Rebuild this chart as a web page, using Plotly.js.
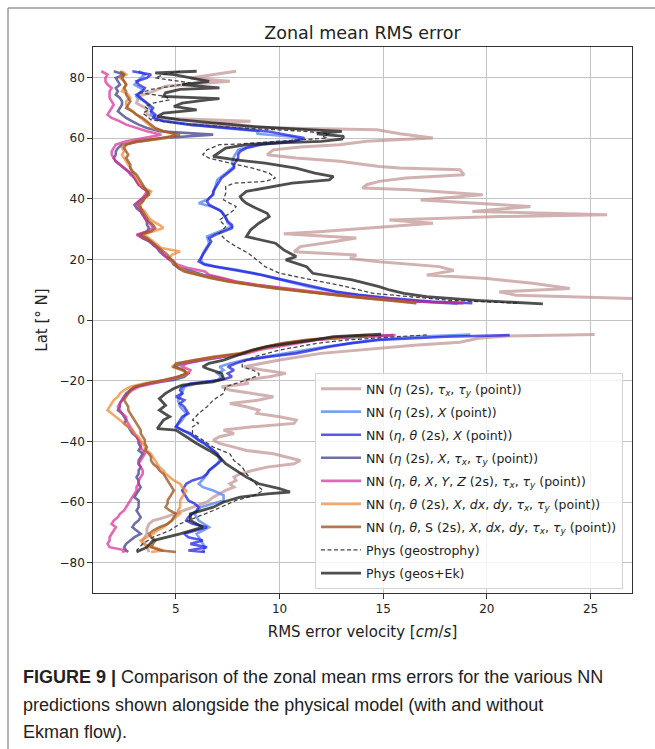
<!DOCTYPE html>
<html>
<head>
<meta charset="utf-8">
<script src="https://cdn.plot.ly/plotly-3.0.1.min.js"></script>
<style>
html,body{margin:0;padding:0;background:#fff;}
#chart{width:655px;height:749px;}
</style>
</head>
<body>
<div id="chart"></div>
<script>
// ---------- DATA ----------
// Common latitude grids (deg N) used by several NN series
const latN = [82.0,80.9,79.8,78.7,77.6,76.5,75.4,74.3,73.2,72.1,71.0,69.9,68.8,67.7,66.6,65.5,64.4,63.3,62.2,61.1,60.0,58.9,57.8,56.7,55.6,54.5,53.4,52.3,51.2,50.1,49.0,47.9,46.8,45.7,44.6,43.5,42.4,41.3,40.2,39.1,38.0,36.9,35.8,34.7,33.6,32.5,31.4,30.3,29.2,28.1,27.0,25.9,24.8,23.7,22.6,21.5,20.4,19.3,18.2,17.1,16.0,14.9,13.8,12.7,11.6,10.5,9.4,8.3,7.2,6.1,5.5];
const latS = [-5.0,-5.5,-6.6,-7.7,-8.8,-9.9,-11.0,-12.1,-13.2,-14.3,-15.4,-16.5,-17.6,-18.7,-19.8,-20.9,-22.0,-23.1,-24.2,-25.3,-26.4,-27.5,-28.6,-29.7,-30.8,-31.9,-33.0,-34.1,-35.2,-36.3,-37.4,-38.5,-39.6,-40.7,-41.9,-43.0,-44.1,-45.2,-46.3,-47.4,-48.5,-49.6,-50.7,-51.8,-52.9,-54.0,-55.1,-56.2,-57.3,-58.4,-59.5,-60.5,-61.7,-62.8,-63.9,-65.0,-66.1,-67.2,-68.3,-69.4,-70.5,-71.6,-72.7,-73.8,-74.9,-76.0,-76.5];

// NN (eta (2s), tau_x, tau_y (point))
const latRosyN = [82.0,80.9,79.8,78.7,77.1,75.4,73.7,71.5,70.0,69.3,67.7,66.5,65.5,64.4,63.3,62.7,61.4,60.0,58.9,57.8,57.0,56.1,54.5,53.4,52.3,50.6,50.1,49.5,47.9,46.8,45.7,44.6,43.5,42.9,41.3,39.6,38.5,37.4,35.8,34.7,34.1,33.0,31.9,30.2,29.1,28.4,27.0,25.8,24.2,22.5,21.4,20.3,19.2,17.6,16.3,14.8,13.7,12.1,10.4,9.3,8.2,6.9];
const rmsRosyN = [7.9,6.8,5.7,7.6,4.5,3.9,3.2,3.1,3.5,3.6,3.6,4.5,8.6,5.7,10.0,14.7,15.8,17.4,14.2,12.9,11.0,9.7,9.4,10.8,12.9,14.8,15.8,18.7,18.9,16.1,14.8,14.2,14.0,16.3,19.8,16.8,19.5,22.1,19.3,25.8,20.6,15.3,17.4,14.2,11.9,10.2,13.7,12.6,11.0,10.7,13.7,13.4,14.8,17.7,18.4,17.1,20.0,22.2,24.0,20.6,21.4,28.0];
const latRosyS = [-4.8,-5.3,-6.0,-7.3,-8.3,-9.3,-11.0,-13.2,-15.4,-16.5,-17.6,-18.7,-19.8,-20.9,-22.0,-23.1,-24.2,-25.3,-26.4,-27.5,-28.6,-29.7,-30.8,-31.9,-33.0,-34.1,-35.2,-36.3,-37.4,-38.5,-39.6,-40.7,-41.9,-43.0,-44.1,-45.2,-46.3,-47.4,-48.5,-49.6,-50.7,-51.8,-52.9,-54.0,-55.1,-56.2,-57.3,-58.4,-60.0,-61.7,-63.3,-65.0,-66.1,-67.2,-68.8,-70.5,-72.7,-74.9,-76.5];
const rmsRosyS = [25.2,21.0,19.6,18.7,16.5,14.8,12.0,10.0,8.3,9.2,10.3,9.5,8.3,8.5,7.2,7.6,8.7,9.7,9.0,7.6,8.4,9.0,8.9,10.0,10.8,10.7,8.7,7.3,7.8,7.1,6.8,7.1,7.8,8.4,9.7,10.3,11.0,10.7,9.4,8.7,8.1,7.8,7.9,7.6,7.8,7.4,7.1,6.8,6.5,5.8,5.2,4.5,3.9,3.7,3.6,3.6,3.4,3.6,3.7];

// NN (eta (2s), X (point))
const latCornN = [82.0,80.9,79.8,77.6,76.0,73.7,71.5,69.3,67.7,66.0,64.4,63.3,62.2,61.4,60.5,59.6,58.9,58.3,57.2,56.1,53.9,51.7,50.6,48.4,46.2,44.0,41.8,40.0,38.5,37.4,36.3,34.1,31.9,30.8,29.7,28.6,27.5,25.3,23.1,22.0,19.8,18.7,17.6,16.5,15.4,14.3,13.2,11.0,8.8,7.7,7.0,6.0,5.3];
const rmsCornN = [3.2,3.5,3.3,3.0,3.4,3.1,3.6,3.8,3.8,4.2,5.6,7.4,9.0,8.9,10.5,11.1,10.4,9.2,8.5,8.0,7.8,7.7,7.8,7.4,7.0,6.9,6.8,6.6,6.1,6.7,7.1,7.4,7.5,7.7,7.3,6.9,6.5,6.6,6.4,6.3,6.2,6.3,6.9,8.0,8.8,9.4,10.1,11.4,13.0,14.4,15.2,17.0,18.6];
const latCornS = [-4.8,-5.5,-6.6,-7.7,-8.8,-11.0,-13.2,-14.3,-15.4,-16.5,-17.6,-18.7,-19.8,-20.9,-22.0,-24.2,-26.4,-28.6,-30.8,-33.0,-35.2,-37.4,-39.6,-41.9,-44.1,-46.3,-47.4,-49.6,-51.8,-54.0,-55.1,-56.2,-57.8,-59.5,-60.5,-61.7,-63.9,-66.1,-68.3,-70.5,-72.7,-74.9,-76.5];
const rmsCornS = [19.2,16.5,14.5,13.3,12.2,10.3,8.3,7.6,7.1,7.3,7.0,7.2,7.0,6.0,5.4,5.3,5.1,5.2,5.5,5.3,5.0,5.6,6.1,6.6,7.0,7.1,7.0,6.6,6.4,6.1,6.3,6.8,7.3,7.3,6.8,6.2,5.9,6.1,6.6,6.0,6.2,6.4,6.3];

// NN (eta, theta (2s), X (point))  -- on latN / latS
const rmsBlueN = [2.9,3.8,3.6,3.1,3.2,3.5,3.4,3.1,3.3,3.5,3.7,3.9,3.8,4.0,3.9,4.4,5.7,7.6,9.4,10.3,11.2,10.7,9.1,8.4,8.1,8.0,8.0,7.9,7.8,7.8,7.6,7.4,7.2,7.1,7.0,6.9,6.8,6.8,6.6,6.5,6.6,6.9,7.2,7.3,7.4,7.5,7.7,7.7,7.3,6.9,6.6,6.7,6.6,6.5,6.4,6.3,6.2,6.1,6.4,7.3,8.3,9.1,9.8,10.5,11.2,11.9,12.7,13.8,15.3,17.3,19.3];
const rmsBlueS = [21.1,18.0,14.8,13.4,12.4,11.5,10.8,9.5,8.4,7.9,7.5,7.8,7.5,7.7,7.2,5.7,5.3,5.2,5.3,5.0,5.4,5.2,5.4,5.5,5.6,5.3,5.2,5.1,5.0,5.3,5.7,5.9,6.1,6.4,6.6,6.8,7.0,7.1,7.2,7.0,6.8,6.6,6.5,6.3,5.8,5.5,5.4,5.3,5.4,5.5,5.6,5.9,6.1,6.0,5.8,5.6,5.5,5.8,6.5,5.9,5.4,5.6,6.3,5.7,6.5,5.6,6.4];

// NN (eta (2s), X, tau_x, tau_y (point))
const rmsSlateN = [2.0,2.5,2.1,2.2,2.3,2.1,2.2,2.1,2.3,2.4,2.4,2.3,2.2,2.4,2.6,2.9,3.2,3.6,4.2,6.8,4.4,3.3,2.4,2.2,2.1,2.1,2.0,2.1,2.3,2.5,2.7,2.9,3.0,3.1,3.2,3.4,3.7,3.6,3.4,3.2,3.0,3.1,3.3,3.4,3.5,3.6,3.6,3.7,3.6,3.2,3.4,3.7,3.9,4.1,4.2,4.4,4.6,4.8,4.9,5.2,5.8,6.3,7.1,7.8,8.8,10.0,11.3,12.7,14.4,16.6,18.8];
const rmsSlateS = [15.5,14.0,11.5,10.2,9.4,8.8,8.3,7.3,6.4,5.4,4.9,5.3,5.6,5.4,4.9,3.7,3.1,2.8,2.6,2.5,2.4,2.3,2.3,2.2,2.4,2.5,2.6,2.5,2.7,2.8,2.9,3.1,3.2,3.2,3.3,3.2,3.4,3.3,3.2,3.2,3.3,3.2,3.2,3.1,3.2,3.2,3.3,3.2,3.1,3.0,3.2,3.2,3.2,3.1,3.2,3.3,3.2,3.0,2.9,3.1,3.3,3.0,2.8,2.6,2.5,2.6,2.7];

// NN (eta, theta, X, Y, Z (2s), tau_x, tau_y (point))
const rmsPinkN = [1.4,1.7,1.6,1.6,1.7,1.9,1.8,1.8,1.8,1.9,2.0,1.9,1.8,1.7,1.9,2.3,2.6,3.1,3.6,4.3,3.5,2.6,2.1,2.0,1.9,1.9,2.0,2.1,2.3,2.5,2.7,2.8,3.0,3.1,3.2,3.4,3.6,3.5,3.4,3.2,3.1,3.2,3.3,3.4,3.5,3.6,3.8,3.9,3.6,3.1,3.4,3.8,3.9,4.1,4.3,4.4,4.6,4.8,5.1,5.6,6.4,6.6,7.3,7.9,8.9,10.2,11.5,12.9,14.6,16.6,18.9];
const rmsPinkS = [15.6,13.5,11.8,10.8,9.8,9.0,8.4,7.2,6.2,5.5,5.3,5.7,5.6,5.1,4.6,3.9,3.2,2.9,2.7,2.5,2.4,2.3,2.2,2.3,2.4,2.6,2.6,2.7,2.8,2.9,3.0,3.1,3.2,3.3,3.3,3.4,3.5,3.4,3.3,3.2,3.3,3.4,3.4,3.3,3.2,3.2,3.1,3.1,3.0,2.9,2.8,2.7,2.6,2.5,2.3,2.2,2.0,1.9,2.1,2.0,1.9,1.8,1.8,1.7,1.8,2.6,2.4];

// NN (eta, theta (2s), X, dx, dy, tau_x, tau_y (point))
const rmsOrangeN = [2.4,2.6,2.3,2.5,2.6,2.5,2.4,2.7,2.8,2.6,2.6,2.7,2.9,3.1,3.3,3.5,3.7,3.9,4.4,5.0,4.6,3.2,2.5,2.4,2.5,2.4,2.5,2.6,2.7,2.8,2.9,3.0,3.1,3.2,3.3,3.5,3.8,3.7,3.5,3.4,3.3,3.3,3.5,3.6,3.7,3.9,4.2,4.4,3.9,3.4,3.7,3.9,4.1,4.3,5.2,4.8,4.7,4.8,5.0,5.2,5.5,6.1,6.8,7.6,8.6,9.8,11.2,12.5,14.2,15.7,16.6];
const rmsOrangeS = [14.4,13.2,11.4,10.3,9.5,8.9,8.2,7.0,5.9,5.1,4.8,5.3,5.6,5.2,4.5,3.5,2.8,2.5,2.3,2.2,2.0,1.9,1.8,1.7,1.9,2.1,2.3,2.5,2.7,2.9,3.0,3.2,3.3,3.4,3.5,3.6,3.8,3.9,4.0,4.1,4.2,4.4,4.5,4.7,4.9,5.2,5.3,5.5,5.4,5.3,5.2,5.2,5.2,5.1,5.2,5.0,4.8,4.6,4.4,4.1,3.9,3.6,3.3,3.4,3.9,4.4,3.8];

// NN (eta, theta, S (2s), X, dx, dy, tau_x, tau_y (point))
const rmsBrownN = [2.3,2.5,2.4,2.5,2.6,2.5,2.6,2.6,2.7,2.8,2.7,2.6,2.9,3.1,3.4,3.6,3.8,4.0,4.4,5.2,4.3,3.1,2.6,2.5,2.6,2.7,2.6,2.7,2.8,2.8,2.9,3.1,3.2,3.3,3.4,3.5,3.6,3.7,3.5,3.4,3.2,3.3,3.4,3.5,3.6,3.7,3.9,4.0,3.8,3.3,3.6,3.8,4.0,4.2,4.4,4.6,4.7,4.9,5.0,5.1,5.4,6.0,6.7,7.5,8.5,9.7,11.1,12.5,14.1,15.8,16.6];
const rmsBrownS = [14.2,13.0,11.2,10.1,9.3,8.7,8.1,6.8,5.8,5.0,4.9,5.4,5.5,5.1,4.4,3.6,3.0,2.8,2.7,2.6,2.5,2.6,2.7,2.7,2.8,2.9,3.0,3.1,3.2,3.3,3.3,3.4,3.5,3.5,3.6,3.5,3.7,3.8,3.8,3.9,4.1,4.2,4.4,4.5,4.6,4.7,4.8,4.9,4.8,4.7,4.6,4.6,4.5,4.7,5.0,4.9,4.8,4.6,4.2,3.9,3.7,3.8,4.0,3.9,3.8,4.3,5.0];

// Phys (geostrophy)
const latGeoN = [82.0,80.9,79.8,78.2,77.1,76.0,74.9,73.7,72.6,71.5,70.4,69.3,68.2,67.1,66.0,64.9,63.8,63.3,62.7,62.2,61.4,60.5,60.0,58.9,58.0,57.8,56.1,54.5,53.4,51.7,50.1,48.4,46.8,45.7,45.1,44.0,41.8,39.6,38.5,37.4,36.3,35.2,33.0,30.8,28.6,26.4,24.2,22.0,19.8,17.6,15.4,13.2,11.0,8.8,7.7,6.5,5.5];
const rmsGeoN = [5.2,4.4,4.0,5.7,4.8,3.8,3.3,4.5,4.7,3.9,3.5,3.7,3.4,3.6,3.8,5.0,6.9,8.1,9.9,11.2,12.4,12.1,12.3,10.0,8.0,7.1,6.5,6.3,6.6,7.6,8.7,9.5,9.8,9.3,7.8,7.4,7.4,7.3,7.6,7.9,7.8,7.6,7.1,7.4,7.1,7.4,7.9,8.5,8.9,9.3,10.0,11.6,13.2,14.5,16.2,18.2,21.6];
const latGeoS = [-4.9,-5.5,-6.6,-7.7,-8.8,-9.9,-11.0,-12.1,-13.2,-14.3,-15.4,-16.5,-17.6,-18.2,-19.8,-20.9,-22.0,-24.2,-26.4,-28.6,-30.8,-33.0,-34.1,-35.2,-37.4,-39.6,-41.9,-44.1,-46.3,-48.5,-50.7,-52.9,-55.1,-56.2,-57.8,-59.5,-61.1,-62.8,-65.0,-67.2,-69.4,-71.6,-73.8,-76.0];
const rmsGeoS = [17.1,15.5,13.2,11.8,10.9,10.0,9.4,8.8,8.4,8.2,8.2,8.7,9.0,9.0,8.4,7.9,7.4,7.3,6.8,6.5,6.1,5.8,6.1,5.8,5.8,6.3,6.8,7.6,7.8,8.2,8.4,8.7,9.0,9.2,8.8,7.9,7.4,6.8,6.0,5.2,4.7,3.9,3.4,3.1];

// Phys (geos+Ek)
const latEkN = [82.0,81.5,80.9,79.8,78.7,77.6,76.5,76.0,74.9,73.7,73.0,72.6,71.5,70.4,69.3,68.2,67.1,66.0,64.9,63.8,62.7,62.2,61.4,60.5,59.6,58.9,58.5,57.8,56.7,55.0,53.9,52.8,51.7,50.1,48.4,47.3,46.2,45.1,43.5,42.4,40.7,39.6,38.5,37.4,35.2,34.1,31.9,29.7,27.5,25.3,23.1,20.9,19.8,17.6,15.4,13.2,11.0,9.9,8.8,7.7,6.5,5.3];
const rmsEkN = [6.0,4.0,4.9,5.7,6.6,5.3,7.1,5.2,4.5,4.4,7.1,6.5,5.3,4.9,6.0,4.4,4.1,5.2,6.8,8.7,11.6,13.0,11.8,13.1,13.0,12.0,10.3,8.4,7.4,7.0,6.8,7.9,9.3,10.8,11.7,12.6,12.4,10.6,9.3,8.4,8.1,8.2,8.4,8.7,9.4,9.5,9.0,8.6,8.4,9.8,10.2,10.8,10.3,11.3,11.6,13.5,14.8,15.3,16.0,17.1,19.5,22.7];
const latEkS = [-4.7,-5.5,-6.6,-7.7,-8.8,-9.9,-11.0,-12.1,-13.2,-14.3,-15.4,-16.0,-17.6,-19.3,-20.4,-21.5,-22.6,-24.2,-25.9,-28.1,-29.7,-31.9,-33.0,-35.8,-36.3,-38.5,-40.7,-43.0,-45.2,-47.4,-49.6,-51.8,-54.0,-55.6,-56.7,-57.3,-58.4,-60.0,-61.7,-63.9,-66.1,-68.3,-70.5,-71.6,-72.7,-74.9,-76.5];
const rmsEkS = [14.9,12.6,11.6,10.4,9.4,8.7,8.2,7.7,7.3,6.6,6.3,6.5,7.2,7.3,6.8,5.3,4.9,4.5,4.2,4.5,4.2,4.7,4.4,4.1,5.0,5.5,6.0,6.6,7.1,7.4,7.9,8.4,9.0,10.0,10.5,9.4,8.1,7.3,6.8,5.7,5.7,6.3,5.2,4.5,3.9,3.6,3.1];

const seriesNames = [
  'NN (<i>η</i> (2s), <i>τ</i><sub><i>x</i></sub>, <i>τ</i><sub><i>y</i></sub> (point))',
  'NN (<i>η</i> (2s), <i>X</i> (point))',
  'NN (<i>η</i>, <i>θ</i> (2s), <i>X</i> (point))',
  'NN (<i>η</i> (2s), <i>X</i>, <i>τ</i><sub><i>x</i></sub>, <i>τ</i><sub><i>y</i></sub> (point))',
  'NN (<i>η</i>, <i>θ</i>, <i>X</i>, <i>Y</i>, <i>Z</i> (2s), <i>τ</i><sub><i>x</i></sub>, <i>τ</i><sub><i>y</i></sub> (point))',
  'NN (<i>η</i>, <i>θ</i> (2s), <i>X</i>, <i>dx</i>, <i>dy</i>, <i>τ</i><sub><i>x</i></sub>, <i>τ</i><sub><i>y</i></sub> (point))',
  'NN (<i>η</i>, <i>θ</i>, S (2s), <i>X</i>, <i>dx</i>, <i>dy</i>, <i>τ</i><sub><i>x</i></sub>, <i>τ</i><sub><i>y</i></sub> (point))',
  'Phys (geostrophy)',
  'Phys (geos+Ek)'
];
const xTicks = [5, 10, 15, 20, 25];
const yTicks = [-80, -60, -40, -20, 0, 20, 40, 60, 80];

// ---------- STYLE ----------
const colors = [
  'rgba(188,140,140,0.68)',
  'rgba(100,145,240,0.85)',
  'rgba(25,25,225,0.72)',
  'rgba(55,55,135,0.72)',
  'rgba(220,45,150,0.72)',
  'rgba(238,135,50,0.72)',
  'rgba(155,85,35,0.78)',
  'rgba(60,60,60,0.95)',
  'rgba(30,30,30,0.78)'
];
const widths = [3, 2.6, 2.6, 2.6, 2.6, 2.6, 2.6, 1.3, 2.8];
const dashes = ['solid','solid','solid','solid','solid','solid','solid','4px,2.5px','solid'];

function join(latA, valA, latB, valB) {
  return { x: valA.concat([null], valB), y: latA.concat([null], latB) };
}
const segs = [
  join(latRosyN, rmsRosyN, latRosyS, rmsRosyS),
  join(latCornN, rmsCornN, latCornS, rmsCornS),
  join(latN, rmsBlueN, latS, rmsBlueS),
  join(latN, rmsSlateN, latS, rmsSlateS),
  join(latN, rmsPinkN, latS, rmsPinkS),
  join(latN, rmsOrangeN, latS, rmsOrangeS),
  join(latN, rmsBrownN, latS, rmsBrownS),
  join(latGeoN, rmsGeoN, latGeoS, rmsGeoS),
  join(latEkN, rmsEkN, latEkS, rmsEkS)
];

const traces = segs.map((s, i) => ({
  type: 'scatter',
  mode: 'lines',
  x: s.x,
  y: s.y,
  name: seriesNames[i],
  legendgroup: 'g' + i,
  connectgaps: false,
  line: { color: colors[i], width: widths[i], dash: dashes[i] },
  hoverinfo: 'skip'
}));

const FONT = 'DejaVu Sans, sans-serif';
const capFont = { family: 'Liberation Sans, Arial, sans-serif', size: 18, color: '#222' };

const layout = {
  width: 655,
  height: 749,
  margin: { l: 93, r: 23, t: 47, b: 156, pad: 0 },
  paper_bgcolor: '#fff',
  plot_bgcolor: '#fff',
  font: { family: FONT, size: 12, color: '#222' },
  showlegend: true,
  title: {
    text: 'Zonal mean RMS error',
    font: { family: FONT, size: 17.5, color: '#222' },
    xref: 'paper', x: 0.5, xanchor: 'center',
    yref: 'container', y: 1 - 33 / 749, yanchor: 'middle'
  },
  xaxis: {
    range: [1, 27],
    tickmode: 'array', tickvals: xTicks,
    ticks: 'outside', ticklen: 4.5, tickwidth: 1, tickcolor: '#333',
    showline: true, linecolor: '#333', linewidth: 1.3, mirror: true,
    showgrid: true, gridcolor: '#c4c4c4', gridwidth: 1,
    zeroline: false,
    tickfont: { family: FONT, size: 12, color: '#222' },
    title: { text: 'RMS error velocity [<i>cm</i>/<i>s</i>]', font: { family: FONT, size: 15, color: '#222' }, standoff: 11 },
    automargin: false
  },
  yaxis: {
    range: [-90, 90],
    tickmode: 'array', tickvals: yTicks,
    ticks: 'outside', ticklen: 4.5, tickwidth: 1, tickcolor: '#333',
    showline: true, linecolor: '#333', linewidth: 1.3, mirror: true,
    showgrid: true, gridcolor: '#c4c4c4', gridwidth: 1,
    zeroline: false,
    tickfont: { family: FONT, size: 12, color: '#222' },
    title: { text: 'Lat [° N]', font: { family: FONT, size: 15, color: '#222' }, standoff: 8 },
    automargin: false
  },
  legend: {
    x: (315 - 93) / 539, xanchor: 'left',
    y: (593 - 373) / 546, yanchor: 'top',
    bgcolor: 'rgba(255,255,255,0.82)',
    bordercolor: '#d4d4d4', borderwidth: 1,
    font: { family: FONT, size: 12.5, color: '#222' },
    tracegroupgap: 3.8,
    itemwidth: 40,
    traceorder: 'grouped'
  },
  shapes: [
    { type: 'line', xref: 'paper', yref: 'paper', x0: (8 - 93) / 539, x1: (660 - 93) / 539, y0: (593 - 8) / 546, y1: (593 - 8) / 546, line: { color: '#9a9a9a', width: 1.5 } },
    { type: 'line', xref: 'paper', yref: 'paper', x0: (8 - 93) / 539, x1: (8 - 93) / 539, y0: (593 - 8) / 546, y1: (593 - 760) / 546, line: { color: '#9a9a9a', width: 1.5 } }
  ],
  annotations: [
    { xref: 'paper', yref: 'paper', x: (21 - 93) / 539, y: (593 - 677) / 546, xanchor: 'left', yanchor: 'middle', showarrow: false, align: 'left', font: capFont,
      text: '<b>FIGURE 9 |</b> Comparison of the zonal mean rms errors for the various NN' },
    { xref: 'paper', yref: 'paper', x: (21 - 93) / 539, y: (593 - 705) / 546, xanchor: 'left', yanchor: 'middle', showarrow: false, align: 'left', font: capFont,
      text: 'predictions shown alongside the physical model (with and without' },
    { xref: 'paper', yref: 'paper', x: (21 - 93) / 539, y: (593 - 732) / 546, xanchor: 'left', yanchor: 'middle', showarrow: false, align: 'left', font: capFont,
      text: 'Ekman flow).' }
  ]
};

Plotly.newPlot('chart', traces, layout, { staticPlot: true, displayModeBar: false });
</script>
</body>
</html>
